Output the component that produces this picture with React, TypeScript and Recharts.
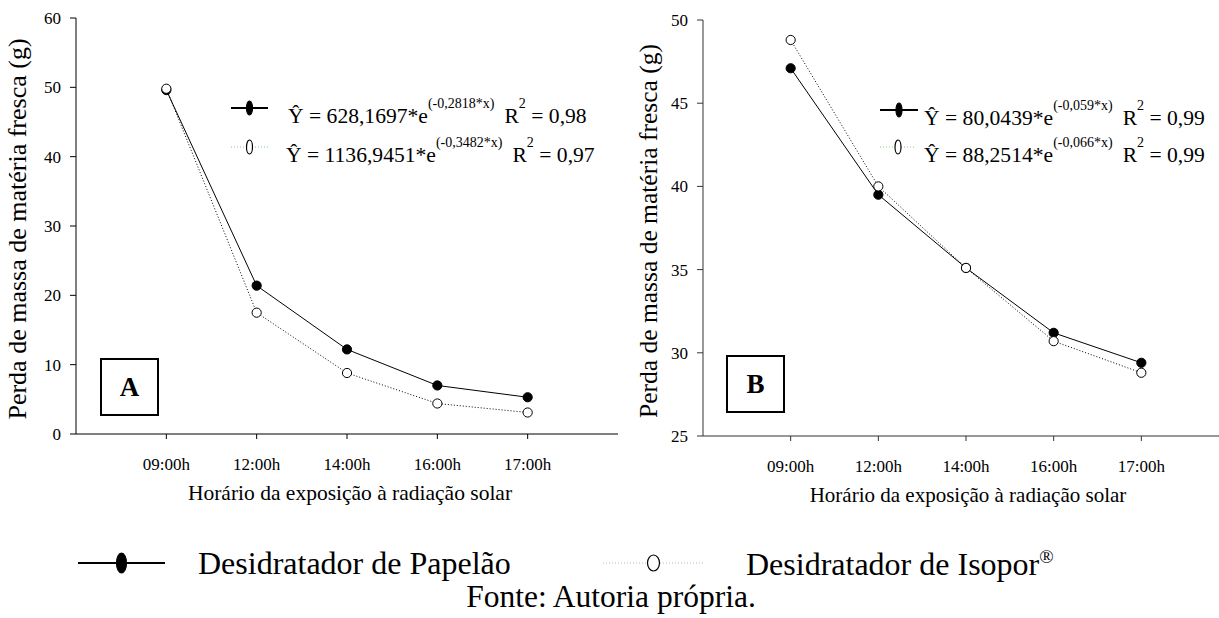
import React from "react";
import { LineChart, Line, XAxis, YAxis } from "recharts";

const hours = ["09:00h", "12:00h", "14:00h", "16:00h", "17:00h"];
const hourPos = [1, 2, 3, 4, 5];

const papelaoA = [49.6, 21.4, 12.2, 7.0, 5.3];
const isoporA = [49.8, 17.5, 8.8, 4.4, 3.1];
const papelaoB = [47.1, 39.5, 35.1, 31.2, 29.4];
const isoporB = [48.8, 40.0, 35.1, 30.7, 28.8];

const ticksA = [0, 10, 20, 30, 40, 50, 60];
const ticksB = [25, 30, 35, 40, 45, 50];

const FONT = "Liberation Serif, Tinos, Times New Roman, DejaVu Serif, serif";

const rows = (a: number[], b: number[]) =>
  hourPos.map((x, i) => ({ x, papelao: a[i], isopor: b[i] }));

const dataA = rows(papelaoA, isoporA);
const dataB = rows(papelaoB, isoporB);

const fmtHour = (v: number) => hours[hourPos.indexOf(v)] ?? "";

const FilledDot = (p: any) =>
  p.cx == null ? null : <circle cx={p.cx} cy={p.cy} r={4.6} fill="#000" stroke="#000" />;
const OpenDot = (p: any) =>
  p.cx == null ? null : <circle cx={p.cx} cy={p.cy} r={4.6} fill="#fff" stroke="#000" strokeWidth={1} />;

function Panel({
  data,
  ticks,
  domain,
  yWidth,
  width,
  color,
}: {
  data: any[];
  ticks: number[];
  domain: [number, number];
  yWidth: number;
  width: number;
  color: string;
}) {
  const tickStyle = { fontFamily: FONT, fontSize: 17, fill: "#000" };
  return (
    <LineChart width={width} height={480} data={data} margin={{ top: 18, right: 2, bottom: 0, left: 0 }}>
      <XAxis
        xAxisId="top"
        orientation="top"
        type="number"
        dataKey="x"
        domain={[0, 6]}
        tick={false}
        tickLine={false}
        height={0}
        axisLine={{ stroke: color }}
      />
      <YAxis
        yAxisId="right"
        orientation="right"
        domain={domain}
        tick={false}
        tickLine={false}
        width={0}
        axisLine={{ stroke: color }}
      />
      <XAxis
        type="number"
        dataKey="x"
        domain={[0, 6]}
        ticks={hourPos}
        tickFormatter={fmtHour}
        tick={tickStyle}
        tickSize={5}
        tickMargin={19}
        height={46}
        interval={0}
        axisLine={{ stroke: color }}
        tickLine={{ stroke: color }}
      />
      <YAxis
        domain={domain}
        ticks={ticks}
        tick={tickStyle}
        tickSize={6}
        tickMargin={9}
        width={yWidth}
        interval={0}
        axisLine={{ stroke: color }}
        tickLine={{ stroke: color }}
      />
      <Line dataKey="papelao" stroke="#000" strokeWidth={1} dot={<FilledDot />} isAnimationActive={false} />
      <Line
        dataKey="isopor"
        stroke="#000"
        strokeWidth={1}
        strokeDasharray="1 2"
        dot={<OpenDot />}
        isAnimationActive={false}
      />
    </LineChart>
  );
}

const abs = (left: number, top: number, extra: React.CSSProperties = {}): React.CSSProperties => ({
  position: "absolute",
  left,
  top,
  fontFamily: FONT,
  color: "#000",
  whiteSpace: "nowrap",
  lineHeight: 1,
  ...extra,
});

function Sym({ filled, w, rx, ry, dotted }: { filled: boolean; w: number; rx: number; ry: number; dotted: string }) {
  const h = ry * 2 + 2;
  return (
    <svg width={w} height={h} style={{ display: "block" }}>
      <line
        x1={0}
        x2={w}
        y1={h / 2}
        y2={h / 2}
        stroke={filled ? "#000" : dotted}
        strokeWidth={filled ? 2 : 1.2}
        strokeDasharray={filled ? undefined : "1 2"}
      />
      <ellipse cx={w / 2} cy={h / 2} rx={rx} ry={ry} fill={filled ? "#000" : "#fff"} stroke="#000" strokeWidth={1.2} />
    </svg>
  );
}

function Equation({
  left,
  top,
  coef,
  expo,
  r2,
}: {
  left: number;
  top: number;
  coef: string;
  expo: string;
  r2: string;
}) {
  const sup: React.CSSProperties = { fontSize: 14, verticalAlign: 15, lineHeight: 1 };
  return (
    <div style={abs(left, top, { fontSize: 21.6, paddingTop: 8 })}>
      Ŷ = {coef}*e<sup style={sup}>{expo}</sup>
      <span style={{ marginLeft: 10 }}>R</span>
      <sup style={sup}>2</sup> = {r2}
    </div>
  );
}

function Box({ left, top, letter }: { left: number; top: number; letter: string }) {
  return (
    <div
      style={abs(left, top, {
        width: 59,
        height: 58,
        border: "2px solid #000",
        boxSizing: "border-box",
        display: "flex",
        alignItems: "center",
        justifyContent: "center",
        fontWeight: "bold",
        fontSize: 27,
        background: "#fff",
      })}
    >
      {letter}
    </div>
  );
}

const yTitle = "Perda de massa de matéria fresca (g)";
const xTitle = "Horário da exposição à radiação solar";

export default function App() {
  return (
    <div
      style={{
        position: "absolute",
        left: 0,
        top: 0,
        width: 1219,
        height: 618,
        overflow: "hidden",
        background: "#fff",
      }}
    >
      <div style={{ position: "absolute", left: 0, top: 0 }}>
        <Panel data={dataA} ticks={ticksA} domain={[0, 60]} yWidth={76} width={620} color="#000" />
      </div>
      <div style={{ position: "absolute", left: 620, top: 2 }}>
        <Panel data={dataB} ticks={ticksB} domain={[25, 50]} yWidth={83} width={611} color="#333" />
      </div>

      {/* axis titles */}
      <div style={abs(18, 229, { fontSize: 26, transform: "translate(-50%, -50%) rotate(-90deg)" })}>{yTitle}</div>
      <div style={abs(649, 231, { fontSize: 25.5, transform: "translate(-50%, -50%) rotate(-90deg)" })}>{yTitle}</div>
      <div style={abs(350, 494, { fontSize: 21.5, transform: "translate(-50%, -50%)" })}>{xTitle}</div>
      <div style={abs(968, 495, { fontSize: 21, transform: "translate(-50%, -50%)" })}>{xTitle}</div>

      {/* equations A */}
      <div style={abs(231, 100)}>
        <Sym filled w={37} rx={3} ry={7} dotted="#000" />
      </div>
      <Equation left={288} top={89} coef="628,1697" expo="(-0,2818*x)" r2="0,98" />
      <div style={abs(231, 139)}>
        <Sym filled={false} w={37} rx={3} ry={7} dotted="#8c8" />
      </div>
      <Equation left={286} top={128} coef="1136,9451" expo="(-0,3482*x)" r2="0,97" />

      {/* equations B */}
      <div style={abs(880, 102)}>
        <Sym filled w={38} rx={3} ry={7} dotted="#000" />
      </div>
      <Equation left={924} top={91} coef="80,0439" expo="(-0,059*x)" r2="0,99" />
      <div style={abs(880, 139)}>
        <Sym filled={false} w={36} rx={3} ry={7} dotted="#8c8" />
      </div>
      <Equation left={924} top={128} coef="88,2514" expo="(-0,066*x)" r2="0,99" />

      <Box left={100} top={358} letter="A" />
      <Box left={726} top={355} letter="B" />

      {/* shared legend */}
      <div style={abs(78, 552)}>
        <Sym filled w={87} rx={5} ry={10} dotted="#000" />
      </div>
      <div style={abs(198, 563, { fontSize: 32, transform: "translateY(-50%)" })}>Desidratador de Papelão</div>
      <div style={abs(603, 554)}>
        <Sym filled={false} w={101} rx={6} ry={8} dotted="#bbb" />
      </div>
      <div style={abs(746, 563, { fontSize: 32, transform: "translateY(-50%)" })}>
        Desidratador de Isopor<sup style={{ fontSize: 19, verticalAlign: 12 }}>®</sup>
      </div>
      <div style={abs(611, 597, { fontSize: 31.5, transform: "translate(-50%, -50%)" })}>Fonte: Autoria própria.</div>
    </div>
  );
}
